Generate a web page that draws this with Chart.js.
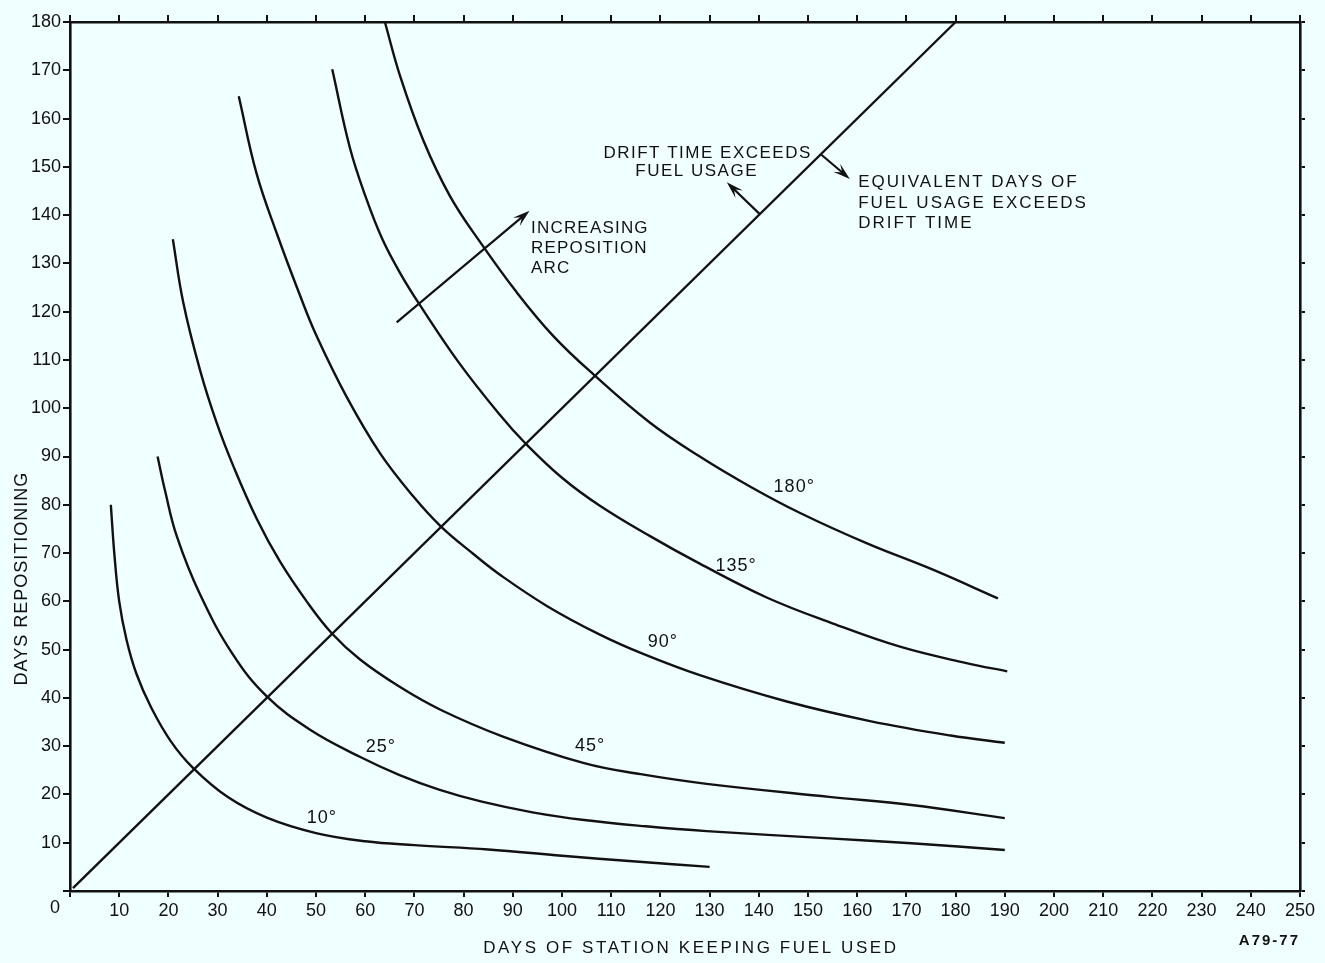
<!DOCTYPE html>
<html>
<head>
<meta charset="utf-8">
<script src="https://cdn.jsdelivr.net/npm/chart.js@4.4.1/dist/chart.umd.min.js"></script>
<style>
  html, body { margin: 0; padding: 0; background: #f0ffff; }
  canvas { display: block; }
</style>
</head>
<body>
<canvas id="chart" width="1325" height="963"></canvas>
<script>
// Days of station-keeping fuel used (x) vs. days repositioning (y), one curve per reposition arc
const arc10Fuel  = [8.3, 9, 10, 11.5, 13.5, 16.5, 20.5, 25, 32, 40, 50, 60, 70, 85, 100, 115, 130];
const arc10Days  = [80, 70, 60, 52, 45, 38, 31, 25.5, 19.5, 15.2, 12, 10.3, 9.5, 8.6, 7.3, 6.1, 5];

const arc25Fuel  = [17.8, 19.3, 21.7, 26.4, 33.1, 40, 48.8, 58.9, 67, 75, 83.7, 94, 104.5, 117, 129.4, 154.3, 171, 190];
const arc25Days  = [90, 83, 73.5, 61.5, 49, 40.3, 33.4, 27.8, 24, 21, 18.5, 16.3, 14.7, 13.4, 12.4, 10.9, 9.9, 8.5];

const arc45Fuel  = [20.9, 23, 26.4, 29.8, 33.2, 38, 42.7, 48.1, 53.2, 58.9, 67, 75.4, 88, 104.5, 116, 129.4, 154.3, 171, 190];
const arc45Days  = [135, 122, 108, 97, 88, 77, 68.2, 60, 53.4, 48, 42.3, 37.5, 32, 26.5, 24.2, 22.2, 19.5, 17.8, 15.1];

const arc90Fuel  = [34.3, 37.9, 42, 46.7, 50.1, 56.2, 63, 69.8, 75.3, 82, 87.4, 97, 107.7, 116.5, 128, 145.5, 162.6, 179, 190];
const arc90Days  = [164.6, 148.7, 136.3, 123.5, 115, 102.4, 90.7, 81.7, 75.6, 69.8, 65.5, 59, 53.1, 49.1, 44.7, 39.3, 35.2, 32.2, 30.7];

const arc135Fuel = [53.3, 56.9, 60.3, 63.5, 67.1, 71.1, 79, 87.4, 92.5, 100, 107.7, 117.9, 128, 141.6, 155.1, 168.7, 182.2, 190.5];
const arc135Days = [170.2, 153.9, 143.2, 135, 128, 121.4, 109.5, 98.6, 92.8, 85.6, 79.8, 73.5, 67.8, 60.8, 55.4, 50.6, 47.2, 45.5];

const arc180Fuel = [64, 67.1, 71.8, 77.2, 83.3, 90.8, 98.2, 106.4, 117.9, 128, 138.2, 148.4, 162, 175.5, 188.6];
const arc180Days = [180, 168.8, 155.5, 144, 134.5, 124, 115, 107, 97, 90, 83.8, 78.3, 72, 66.5, 60.6];

// Break-even line: drift time equals equivalent days of fuel usage
const breakEvenFuel = [0.6, 180];
const breakEvenDays = [0.6, 180];

const arcNames = ['10°', '25°', '45°', '90°', '135°', '180°'];

// Axis ranges and tick steps
const fuelRange = [0, 250];
const daysRange = [0, 180];
const tickStep = 10;

const INK = '#111111';
const FONT = '"Liberation Sans", Arial, sans-serif';

const pairs = (xs, ys) => xs.map((x, i) => ({ x, y: ys[i] }));

const curveStyle = {
  showLine: true,
  pointRadius: 0,
  borderColor: INK,
  borderWidth: 2.4,
  tension: 0.4,
  fill: false,
  clip: 4
};

const datasets = [
  { label: arcNames[0], data: pairs(arc10Fuel, arc10Days), ...curveStyle },
  { label: arcNames[1], data: pairs(arc25Fuel, arc25Days), ...curveStyle },
  { label: arcNames[2], data: pairs(arc45Fuel, arc45Days), ...curveStyle },
  { label: arcNames[3], data: pairs(arc90Fuel, arc90Days), ...curveStyle },
  { label: arcNames[4], data: pairs(arc135Fuel, arc135Days), ...curveStyle },
  { label: arcNames[5], data: pairs(arc180Fuel, arc180Days), ...curveStyle },
  { label: 'break-even', data: pairs(breakEvenFuel, breakEvenDays), ...curveStyle, tension: 0 }
];

// Where the curve names and notes sit, in axis units
const arcLabelAt = [
  [51.2, 15.1], [63.2, 29.8], [105.7, 30.1], [120.5, 51.6], [135.4, 67.4], [147.2, 83.7]
];

const notes = [
  { lines: ['INCREASING', 'REPOSITION', 'ARC'], at: [93.7, 137.2], step: 20, align: 'left', spacing: 1.2 },
  { lines: ['DRIFT TIME EXCEEDS', 'FUEL USAGE'], at: [129.6, 152.9], step: 18, align: 'center', spacing: 1.5, shifts: [0, -11] },
  { lines: ['EQUIVALENT DAYS OF', 'FUEL USAGE EXCEEDS', 'DRIFT TIME'], at: [160.2, 146.7], step: 20.5, align: 'left', spacing: 2 }
];

const arrows = [
  { from: [66.4, 117.8], to: [93.4, 140.9] },
  { from: [140.2, 140.2], to: [133.5, 146.8] },
  { from: [152.6, 152.6], to: [158.5, 147.5] }
];

function drawArrow(ctx, x0, y0, x1, y1) {
  const a = Math.atan2(y1 - y0, x1 - x0);
  const L = 18, spread = 0.3;
  ctx.beginPath();
  ctx.moveTo(x0, y0);
  ctx.lineTo(x1 - 6 * Math.cos(a), y1 - 6 * Math.sin(a));
  ctx.stroke();
  ctx.beginPath();
  ctx.moveTo(x1, y1);
  ctx.lineTo(x1 - L * Math.cos(a - spread), y1 - L * Math.sin(a - spread));
  ctx.lineTo(x1 - 0.55 * L * Math.cos(a), y1 - 0.55 * L * Math.sin(a));
  ctx.lineTo(x1 - L * Math.cos(a + spread), y1 - L * Math.sin(a + spread));
  ctx.closePath();
  ctx.fill();
}

const paperPlugin = {
  id: 'paper',
  beforeDraw(chart) {
    const ctx = chart.ctx;
    ctx.save();
    ctx.fillStyle = '#f0ffff';
    ctx.fillRect(0, 0, chart.width, chart.height);
    ctx.restore();
  },
  afterDatasetsDraw(chart) {
    const ctx = chart.ctx;
    const xs = chart.scales.x, ys = chart.scales.y;
    const area = chart.chartArea;
    const px = v => xs.getPixelForValue(v);
    const py = v => ys.getPixelForValue(v);
    ctx.save();
    ctx.fillStyle = INK;
    ctx.strokeStyle = INK;
    ctx.lineWidth = 2.2;
    ctx.textBaseline = 'middle';

    // curve names
    ctx.font = '18px ' + FONT;
    ctx.textAlign = 'center';
    ctx.letterSpacing = '1px';
    arcNames.forEach((name, i) => {
      ctx.fillText(name, px(arcLabelAt[i][0]), py(arcLabelAt[i][1]));
    });

    // notes
    ctx.font = '17px ' + FONT;
    notes.forEach(n => {
      ctx.textAlign = n.align;
      ctx.letterSpacing = n.spacing + 'px';
      n.lines.forEach((line, i) => {
        const dx = n.shifts ? n.shifts[i] : 0;
        ctx.fillText(line, px(n.at[0]) + dx, py(n.at[1]) + i * n.step);
      });
    });

    // arrows
    arrows.forEach(a => drawArrow(ctx, px(a.from[0]), py(a.from[1]), px(a.to[0]), py(a.to[1])));

    // origin label
    ctx.letterSpacing = '0px';
    ctx.font = '18px ' + FONT;
    ctx.textAlign = 'center';
    ctx.fillText('0', area.left - 15, area.bottom + 17);

    // axis titles
    ctx.font = '17px ' + FONT;
    ctx.letterSpacing = '2.6px';
    ctx.fillText('DAYS OF STATION KEEPING FUEL USED', px(126.2), area.bottom + 57);

    ctx.save();
    ctx.translate(area.left - 48, py(64.7));
    ctx.rotate(-Math.PI / 2);
    ctx.font = '18px ' + FONT;
    ctx.letterSpacing = '1px';
    ctx.fillText('DAYS REPOSITIONING', 0, 0);
    ctx.restore();

    // drawing number
    ctx.font = 'bold 15px ' + FONT;
    ctx.letterSpacing = '2px';
    ctx.textAlign = 'right';
    ctx.fillText('A79-77', area.right, area.bottom + 50);
    ctx.restore();
  }
};

const tickFont = { family: FONT, size: 18 };
const hideZero = v => (v === 0 ? '' : v);

new Chart(document.getElementById('chart'), {
  type: 'scatter',
  data: { datasets },
  plugins: [paperPlugin],
  options: {
    responsive: false,
    animation: false,
    devicePixelRatio: 1,
    layout: { padding: 0 },
    plugins: { legend: { display: false }, tooltip: { enabled: false } },
    scales: {
      x: {
        type: 'linear', position: 'bottom', min: fuelRange[0], max: fuelRange[1],
        ticks: { stepSize: tickStep, autoSkip: false, maxRotation: 0, color: INK, font: tickFont, padding: 3, callback: hideZero },
        grid: { drawOnChartArea: false, drawTicks: true, tickLength: 6, color: INK, lineWidth: 2 },
        border: { color: INK, width: 2.6 },
        afterFit(s) { s.height = 72; }
      },
      x2: {
        type: 'linear', position: 'top', min: fuelRange[0], max: fuelRange[1],
        ticks: { stepSize: tickStep, display: false },
        grid: { drawOnChartArea: false, drawTicks: true, tickLength: 7, color: INK, lineWidth: 2 },
        border: { color: INK, width: 2.6 },
        afterFit(s) { s.height = 22; }
      },
      y: {
        type: 'linear', position: 'left', min: daysRange[0], max: daysRange[1],
        ticks: { stepSize: tickStep, autoSkip: false, color: INK, font: tickFont, padding: 2, callback: hideZero },
        grid: { drawOnChartArea: false, drawTicks: true, tickLength: 7, color: INK, lineWidth: 2 },
        border: { color: INK, width: 2.6 },
        afterFit(s) { s.width = 70; }
      },
      y2: {
        type: 'linear', position: 'right', min: daysRange[0], max: daysRange[1],
        ticks: { stepSize: tickStep, display: false },
        grid: { drawOnChartArea: false, drawTicks: true, tickLength: 5, color: INK, lineWidth: 2 },
        border: { color: INK, width: 2.6 },
        afterFit(s) { s.width = 25; }
      }
    }
  }
});
</script>
</body>
</html>
